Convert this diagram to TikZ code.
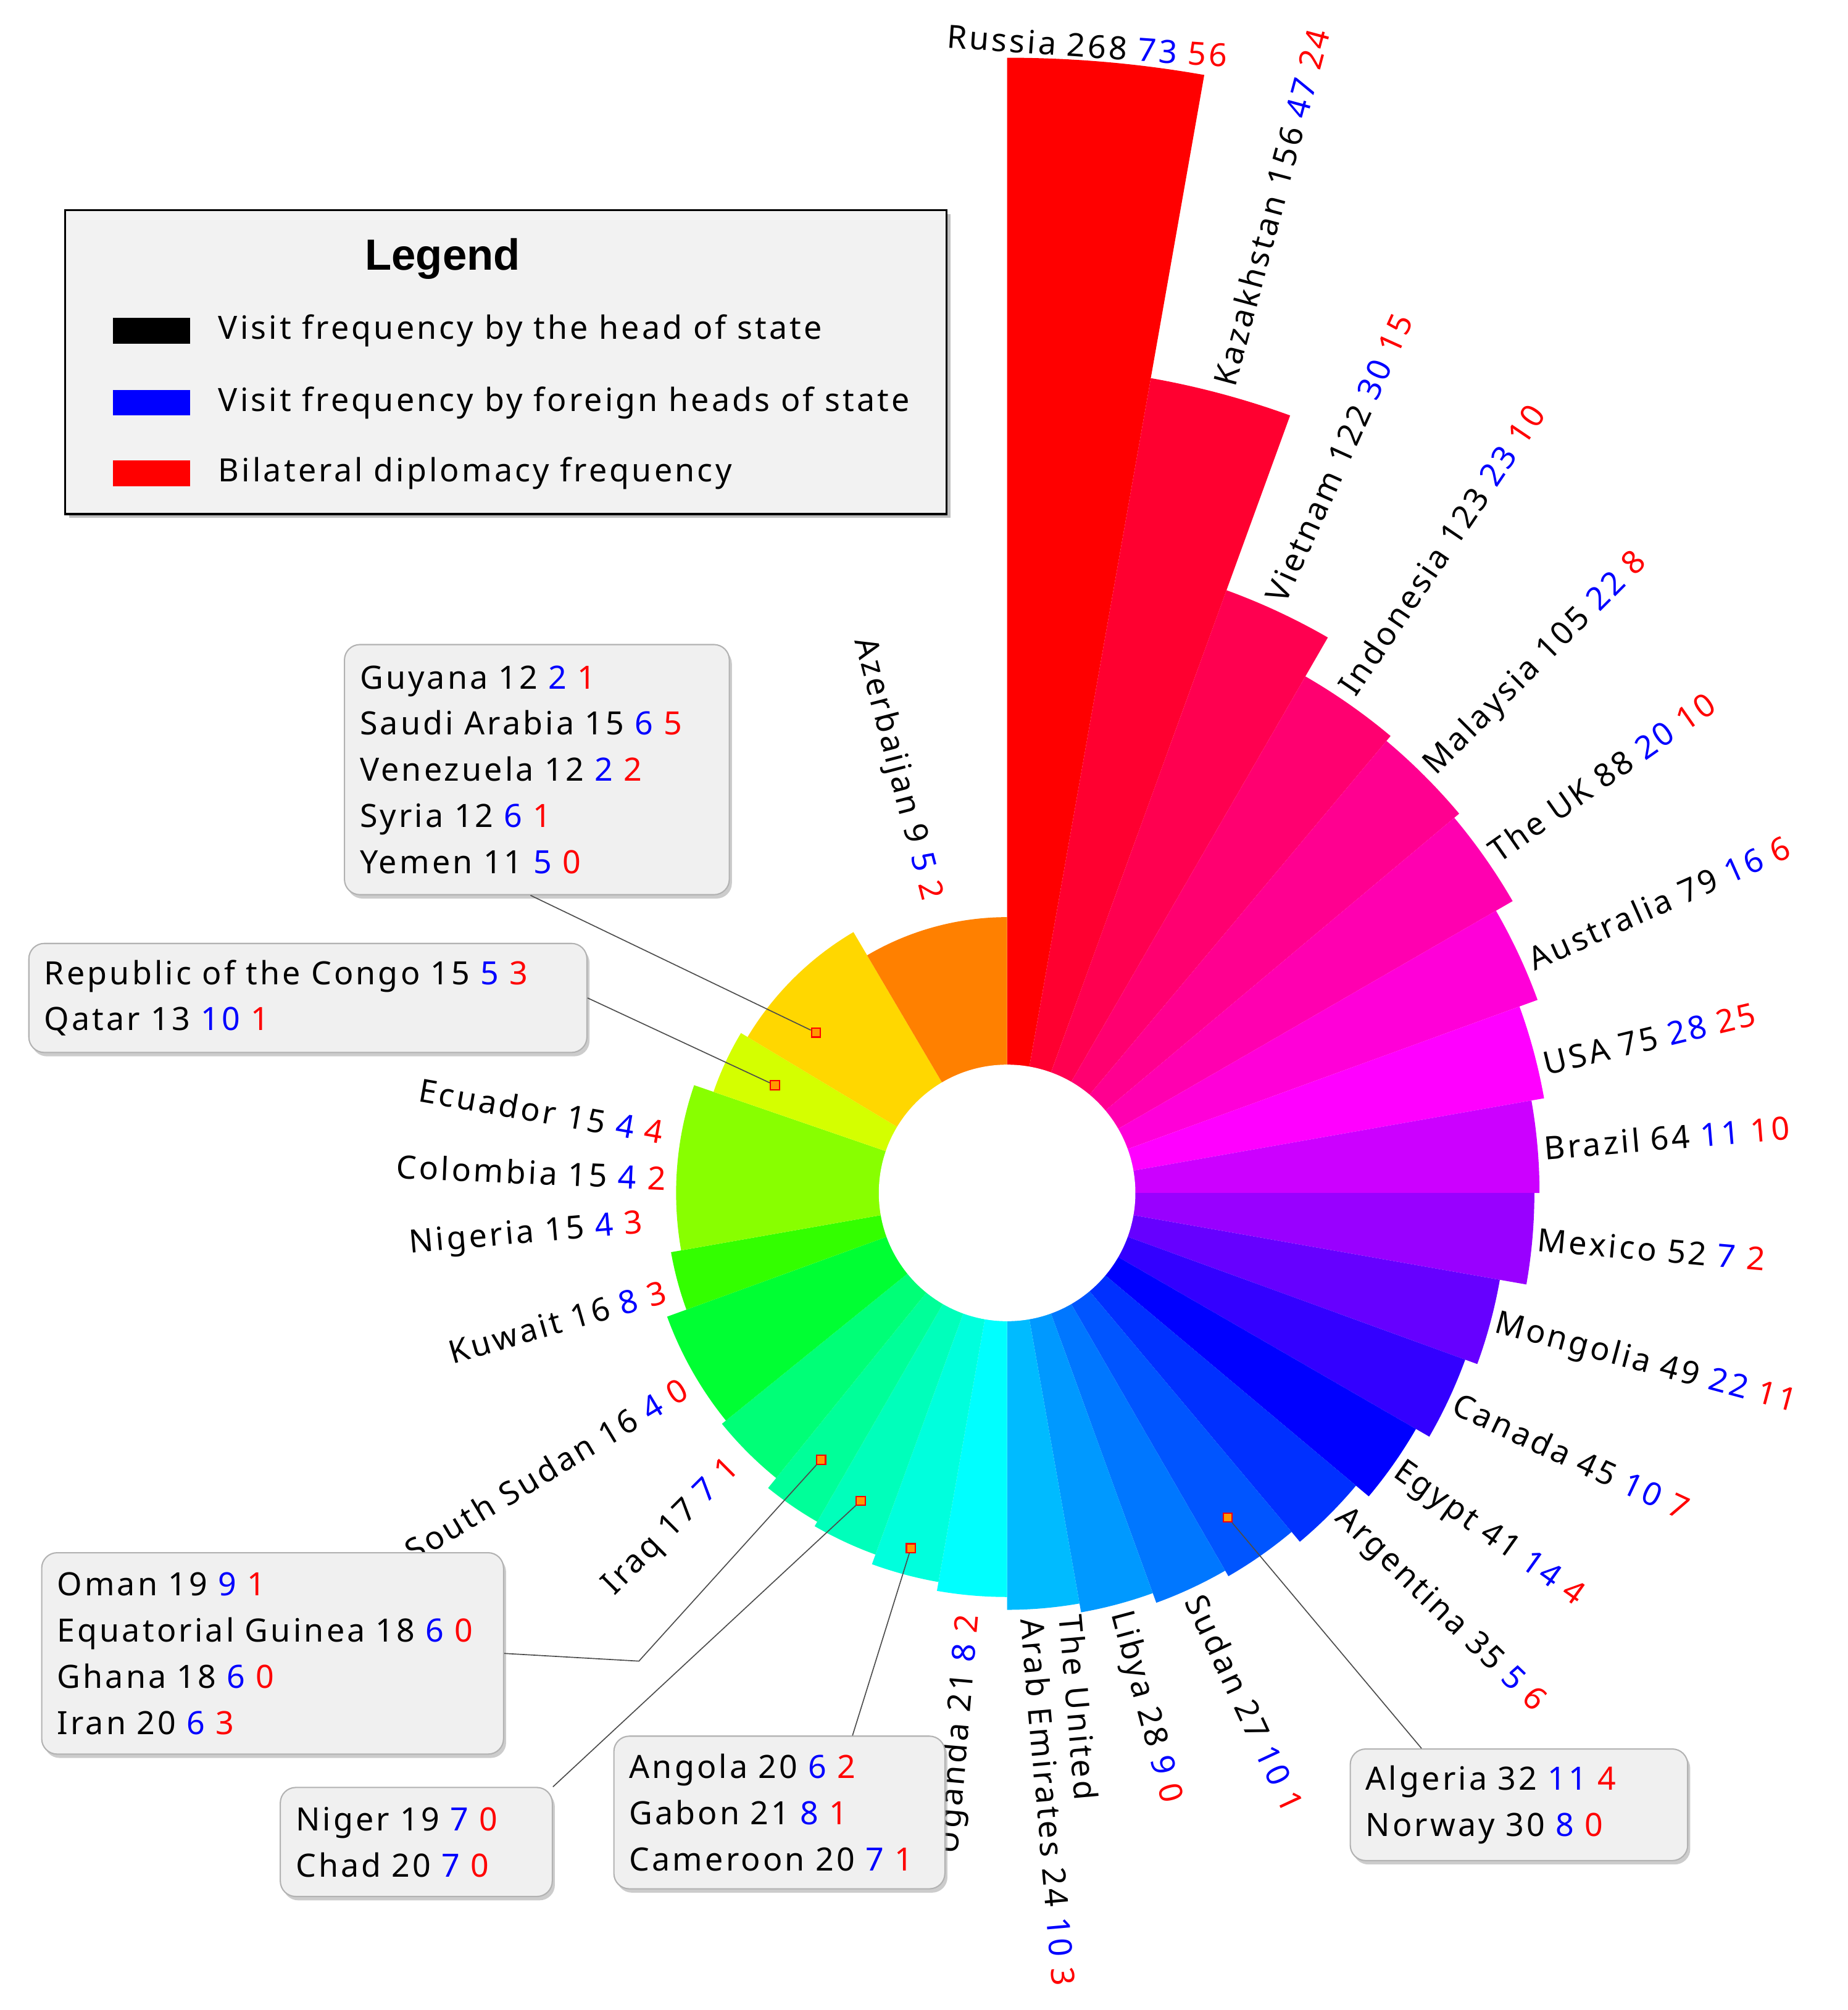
\documentclass[tikz,border=0pt]{standalone}
\usepackage{fontspec}
\setmainfont{Noto Sans}[LetterSpace=8]
\newfontfamily\titlefont{Liberation Sans}
\usetikzlibrary{shadows}
\newcommand\lab[3]{#1 \textcolor{blue}{#2} \textcolor{red}{#3}}
\definecolor{b1}{HTML}{FF0000}\definecolor{b2}{HTML}{FF0030}\definecolor{b3}{HTML}{FF0050}
\definecolor{b4}{HTML}{FF0070}\definecolor{b5}{HTML}{FF0090}\definecolor{b6}{HTML}{FF00B0}
\definecolor{b7}{HTML}{FF00D8}\definecolor{b8}{HTML}{FF00FF}\definecolor{b9}{HTML}{CC00FF}
\definecolor{b10}{HTML}{9900FF}\definecolor{b11}{HTML}{6600FF}\definecolor{b12}{HTML}{3300FF}
\definecolor{b13}{HTML}{0000FF}\definecolor{b14}{HTML}{0030FF}\definecolor{b15}{HTML}{0055FF}
\definecolor{b16}{HTML}{0077FF}\definecolor{b17}{HTML}{0099FF}\definecolor{b18}{HTML}{00BBFF}
\definecolor{b19}{HTML}{00FFFF}\definecolor{b20}{HTML}{00FFDD}\definecolor{b21}{HTML}{00FFBB}
\definecolor{b22}{HTML}{00FF99}\definecolor{b23}{HTML}{00FF77}\definecolor{b24}{HTML}{00FF33}
\definecolor{b25}{HTML}{33FF00}\definecolor{b26}{HTML}{88FF00}\definecolor{b27}{HTML}{D4FF00}
\definecolor{b28}{HTML}{FFD700}\definecolor{b29}{HTML}{FF8000}
\definecolor{boxgray}{HTML}{F0F0F0}
\tikzset{
  lbl/.style={font=\fontsize{25}{30}\selectfont, inner sep=0pt},
  callout/.style={draw=gray!60, fill=boxgray, rounded corners=12pt, line width=1pt,
     align=left, font=\fontsize{25}{36}\selectfont, inner xsep=12pt, inner ysep=8pt,
     drop shadow={shadow xshift=2pt, shadow yshift=-3pt, opacity=0.4}},
  leader/.style={draw=black!70, line width=0.8pt},
  dot/.style={draw=red, fill=orange!80!yellow, minimum size=7pt, inner sep=0pt, line width=1pt},
  swatch/.style={minimum width=60pt, minimum height=20pt, inner sep=0pt}
}
\begin{document}
\begin{tikzpicture}[x=1pt,y=1pt]
\useasboundingbox (0,0) rectangle (1440,-1567);
\coordinate (C) at (785,-930);
% bars
\foreach \s/\e/\r/\c in {90/80/885/b1, 80/70/645/b2, 70/60/500/b3, 60/50/465/b4, 50/40/460/b5,
  40/30/455/b6, 30/20/440/b7, 20/10/425/b8, 10/0/415/b9, 0/-10/411/b10, -10/-20/390/b11,
  -20/-30/380/b12, -30/-40/368/b13, -40/-50/355/b14, -50/-60/345/b15, -60/-70/340/b16,
  -70/-80/332/b17, -80/-90/325/b18, -90/-100/315/b19, -100/-110/308/b20, -110/-120/300/b21,
  -120/-129/296/b22, -129/-141/286/b23, -141/-160/282/b24, -160/-170/266/b25, -170/-199/258/b26,
  -199/-211/242/b27, -211/-239.5/236/b28, -239.5/-270/215/b29}
  \fill[\c] (C) -- ++(\s:\r pt) arc[start angle=\s, end angle=\e, radius=\r pt] -- cycle;
\fill[white] (C) circle[radius=100pt];
% right-side labels
\foreach \n/\a/\r/\t/\u/\v in {kaz/75/652/Kazakhstan 156/47/24, vie/65.7/507/Vietnam 122/30/15,
  ind/56/472/Indonesia 123/23/10, mal/45/466/Malaysia 105/22/8, uk/35/461/The UK 88/20/10,
  aus/24/446/Australia 79/16/6, usa/13.5/430/USA 75/28/25, bra/4.8/420/Brazil 64/11/10,
  mex/-5/415/Mexico 52/7/2, mon/-15/394/Mongolia 49/22/11, can/-25/385/Canada 45/10/7,
  egy/-35.4/372/Egypt 41/14/4, arg/-44/360/Argentina 35/5/6, sud/-65/347/Sudan 27/10/1,
  lib/-75/338/Libya 28/9/0}
  \node[lbl, rotate=\a, anchor=west] (\n) at ([shift={(\a:\r pt)}]C) {\lab{\t}{\u}{\v}};
\node[lbl, rotate=-85, anchor=west, align=left] (uae) at ([shift={(-84:332pt)}]C)
  {The United\\Arab Emirates 24 \textcolor{blue}{10} \textcolor{red}{3}};
% left-side labels
\foreach \n/\a/\r/\t/\u/\v in {aze/104.6/236/Azerbaijan 9/5/2, ecu/170/272/Ecuador 15/4/4,
  col/177.5/266/Colombia 15/4/2, nig/185/285/Nigeria 15/4/3, kuw/196/277/Kuwait 16/8/3,
  ssu/211/293/South Sudan 16/4/0, irq/225/300/Iraq 17/7/1, uga/265/330/Uganda 21/8/2}
  \pgfmathsetmacro\rot{\a+180}
  \node[lbl, rotate=\rot, anchor=east] (\n) at ([shift={(\a:\r pt)}]C) {\lab{\t}{\u}{\v}};
\node[lbl, rotate=-4, anchor=west] (rus) at (738,-28) {Russia 268 \textcolor{blue}{73} \textcolor{red}{56}};
% legend
\node[draw=black, line width=1.5pt, fill=black!5, minimum width=687pt, minimum height=237pt,
  anchor=north west, drop shadow={shadow xshift=3pt, shadow yshift=-3pt, opacity=0.5}] (leg) at (50,-163) {};
\node[font=\fontsize{34}{38}\titlefont\bfseries] (legt) at (345,-202) {Legend};
\node[swatch, fill=black] (s1) at (118,-258) {};
\node[swatch, fill=blue] (s2) at (118,-314) {};
\node[swatch, fill=red] (s3) at (118,-369) {};
\node[lbl, anchor=west] (l1) at (170,-258) {Visit frequency by the head of state};
\node[lbl, anchor=west] (l2) at (170,-314) {Visit frequency by foreign heads of state};
\node[lbl, anchor=west] (l3) at (170,-369) {Bilateral diplomacy frequency};
% dots
\node[dot] (d1) at (636,-805) {};
\node[dot] (d2) at (604,-846) {};
\node[dot] (d3) at (640,-1138) {};
\node[dot] (d4) at (671,-1170) {};
\node[dot] (d5) at (710,-1207) {};
\node[dot] (d6) at (957,-1183) {};
% callouts
\node[callout, anchor=north west, text width=276pt, minimum height=195pt] (c1) at (268,-502)
  {\lab{Guyana 12}{2}{1}\\ \lab{Saudi Arabia 15}{6}{5}\\ \lab{Venezuela 12}{2}{2}\\ \lab{Syria 12}{6}{1}\\ \lab{Yemen 11}{5}{0}};
\node[callout, anchor=north west, text width=411pt, minimum height=85pt] (c2) at (22,-735)
  {\lab{Republic of the Congo 15}{5}{3}\\ \lab{Qatar 13}{10}{1}};
\node[callout, anchor=north west, text width=336pt, minimum height=157pt] (c3) at (32,-1210)
  {\lab{Oman 19}{9}{1}\\ \lab{Equatorial Guinea 18}{6}{0}\\ \lab{Ghana 18}{6}{0}\\ \lab{Iran 20}{6}{3}};
\node[callout, anchor=north west, text width=188pt, minimum height=85pt] (c4) at (218,-1393)
  {\lab{Niger 19}{7}{0}\\ \lab{Chad 20}{7}{0}};
\node[callout, anchor=north west, text width=234pt, minimum height=119pt] (c5) at (478,-1353)
  {\lab{Angola 20}{6}{2}\\ \lab{Gabon 21}{8}{1}\\ \lab{Cameroon 20}{7}{1}};
\node[callout, anchor=north west, text width=239pt, minimum height=87pt] (c6) at (1052,-1363)
  {\lab{Algeria 32}{11}{4}\\ \lab{Norway 30}{8}{0}};
% leaders
\coordinate (k3) at (498,-1295);
\draw[leader] (c1.south) ++(-5,0) coordinate (p1) -- (d1);
\draw[leader] (c2.east) -- (d2);
\draw[leader] (c3.east) -- (k3) -- (d3);
\draw[leader] (c4.north east) -- (d4);
\draw[leader] (c5.north) ++(57,0) coordinate (p5) -- (d5);
\draw[leader] (c6.north west) ++(56,0) coordinate (p6) -- (d6);
\end{tikzpicture}
\end{document}
